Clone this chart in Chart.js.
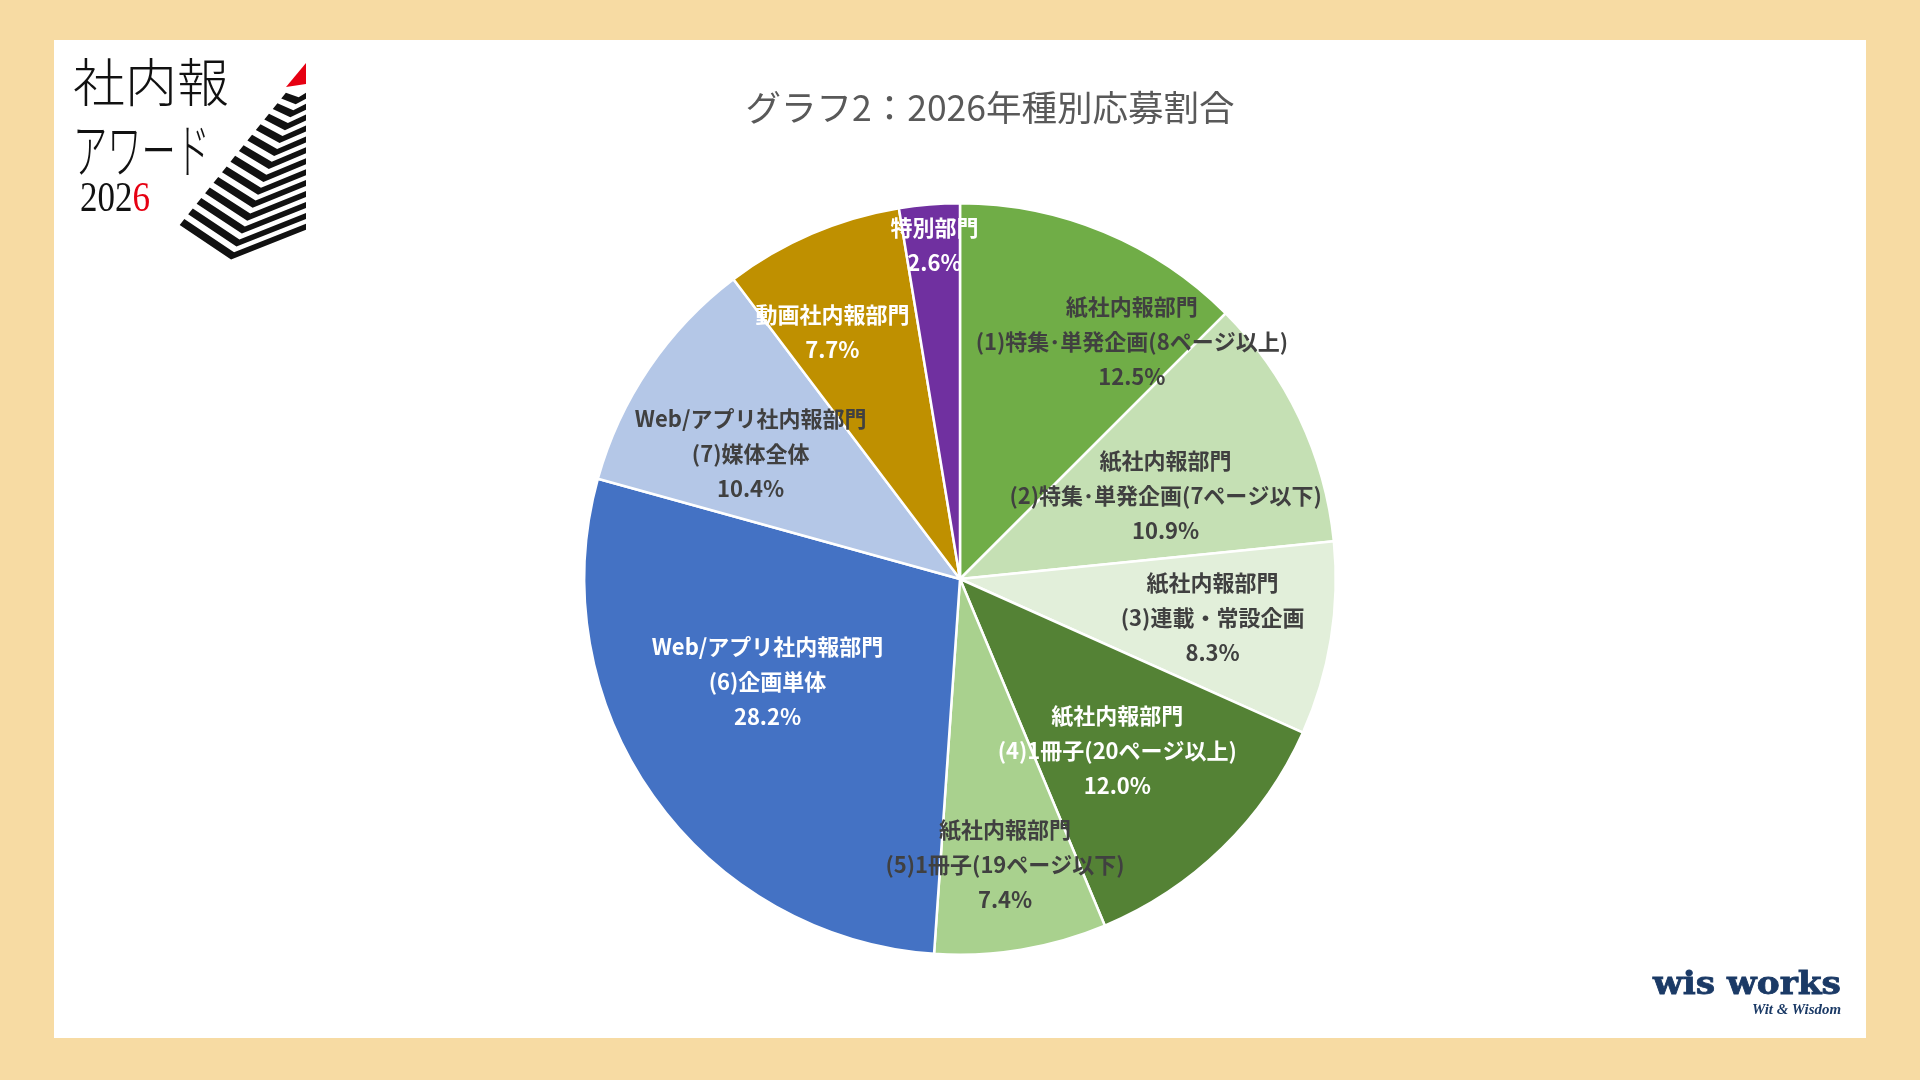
<!DOCTYPE html>
<html lang="ja">
<head>
<meta charset="utf-8">
<script src="https://cdn.jsdelivr.net/npm/chart.js@4.4.1/dist/chart.umd.min.js"></script>
<style>
  html, body { margin: 0; padding: 0; width: 1920px; height: 1080px; overflow: hidden; background: #F7DBA3; }
  #panel { position: absolute; left: 54px; top: 40px; width: 1812px; height: 998px; background: #ffffff; }
  #chartBox { position: absolute; left: 54px; top: 40px; width: 1812px; height: 998px; }
  .logo { position: absolute; white-space: nowrap; line-height: 1; }
  #title { position: absolute; left: 990px; top: 88px; transform: translateX(-50%); white-space: nowrap; line-height: 1;
           font-family: 'Noto Sans CJK JP'; font-size: 35.5px; font-weight: normal; color: #595959; }
</style>
</head>
<body>
<div id="panel"></div>
<div id="chartBox"><canvas id="c"></canvas></div>
<div id="title"></div>

<!-- 社内報アワード 2026 logo -->
<div class="logo" id="lg1" style="left:73px; top:54px; font-family:'Noto Sans CJK JP'; font-weight:300; font-size:52px; color:#111;">社内報</div>
<div class="logo" id="lg2" style="left:73px; top:117px; font-family:'Noto Sans CJK JP'; font-weight:300; font-size:60px; color:#111;">アワード</div>
<div class="logo" id="lg3" style="left:80px; top:176px; font-family:'Liberation Serif'; font-size:42px; color:#111;">202<span style="color:#E60012">6</span></div>
<svg id="pyr" style="position:absolute; left:0; top:0;" width="400" height="300"></svg>

<!-- wis works logo -->
<div class="logo" id="ww1" style="left:1653px; top:967px; font-family:'DejaVu Serif'; font-weight:bold; font-size:32px; color:#1B3A66; -webkit-text-stroke:0.8px #1B3A66;">wis works</div>
<div class="logo" id="ww2" style="left:1752px; top:1003px; font-family:'Liberation Serif'; font-style:italic; font-weight:bold; font-size:14px; color:#1B3A66;">Wit &amp; Wisdom</div>

<script>
// ---- data ----
const sectionNames = ['紙社内報部門', '紙社内報部門', '紙社内報部門', '紙社内報部門', '紙社内報部門',
                      'Web/アプリ社内報部門', 'Web/アプリ社内報部門', '動画社内報部門', '特別部門'];
const subNames = ['(1)特集･単発企画(8ページ以上)', '(2)特集･単発企画(7ページ以下)', '(3)連載・常設企画',
                  '(4)1冊子(20ページ以上)', '(5)1冊子(19ページ以下)', '(6)企画単体', '(7)媒体全体', '', ''];
const shares = [12.5, 10.9, 8.3, 12.0, 7.4, 28.2, 10.4, 7.7, 2.6];
const titleText = 'グラフ2：2026年種別応募割合';

// ---- styles ----
const sliceColors = ['#70AD47', '#C5E0B4', '#E2EFDA', '#548235', '#A9D18E', '#4472C4', '#B4C7E7', '#BF9000', '#7030A0'];
const labelColors = ['#404040', '#404040', '#404040', '#FFFFFF', '#404040', '#FFFFFF', '#404040', '#FFFFFF', '#FFFFFF'];
const labelRadius = [0.78, 0.59, 0.68, 0.62, 0.77, 0.58, 0.65, 0.74, 0.89];
const labelShiftDeg = [13.4, 3.4, -0.5, 1.8, 0.4, 7.3, -3.2, -4.1, 0.3];

document.getElementById('title').textContent = titleText;

const sliceLabels = {
  id: 'sliceLabels',
  afterDatasetsDraw(chart) {
    const ctx = chart.ctx;
    const meta = chart.getDatasetMeta(0);
    ctx.save();
    ctx.font = 'bold 22px "Noto Sans CJK JP"';
    ctx.textAlign = 'center';
    ctx.textBaseline = 'middle';
    const lh = 35;
    meta.data.forEach((arc, i) => {
      const p = arc.getProps(['x', 'y', 'startAngle', 'endAngle', 'outerRadius'], true);
      const mid = (p.startAngle + p.endAngle) / 2 + labelShiftDeg[i] * Math.PI / 180;
      const r = p.outerRadius * labelRadius[i];
      const cx = p.x + Math.cos(mid) * r;
      const cy = p.y + Math.sin(mid) * r;
      const lines = [sectionNames[i], subNames[i], shares[i].toFixed(1) + '%'].filter(s => s);
      ctx.fillStyle = labelColors[i];
      lines.forEach((t, k) => {
        ctx.fillText(t, cx, cy + (k - (lines.length - 1) / 2) * lh);
      });
    });
    ctx.restore();
  }
};

new Chart(document.getElementById('c'), {
  type: 'pie',
  data: {
    labels: sectionNames.map((s, i) => s + ' ' + subNames[i]),
    datasets: [{
      data: shares,
      backgroundColor: sliceColors,
      borderColor: '#FFFFFF',
      borderWidth: 2.5
    }]
  },
  options: {
    responsive: true,
    maintainAspectRatio: false,
    devicePixelRatio: 1,
    animation: false,
    layout: { padding: { left: 0, right: 0, top: 162, bottom: 82 } },
    plugins: {
      legend: { display: false },
      tooltip: { enabled: false },
      title: { display: false }
    }
  },
  plugins: [sliceLabels]
});

// ---- decorative logo pyramid ----
(function () {
  const svg = document.getElementById('pyr');
  const NS = 'http://www.w3.org/2000/svg';
  const lerp = (a, b, t) => [a[0] + (b[0] - a[0]) * t, a[1] + (b[1] - a[1]) * t];
  const L0 = [288, 90], L1 = [178, 227];
  const B0 = [300, 94], B1 = [230, 262];
  const R0 = [306, 90], R1 = [306, 232];
  const N = 13, frac = 0.55;
  for (let i = 0; i < N; i++) {
    const t1 = (i + 0.25) / N, t2 = Math.min(1, t1 + frac / N);
    const pts = [lerp(L0, L1, t1), lerp(B0, B1, t1), lerp(R0, R1, t1),
                 lerp(R0, R1, t2), lerp(B0, B1, t2), lerp(L0, L1, t2)];
    const poly = document.createElementNS(NS, 'polygon');
    poly.setAttribute('points', pts.map(p => p.join(',')).join(' '));
    poly.setAttribute('fill', '#111');
    svg.appendChild(poly);
  }
  const tri = document.createElementNS(NS, 'polygon');
  tri.setAttribute('points', '306,63 286,87 306,84');
  tri.setAttribute('fill', '#E60012');
  svg.appendChild(tri);
})();

// fit logo texts to their target widths
function fitWidth(id, w) {
  const el = document.getElementById(id);
  const cur = el.getBoundingClientRect().width;
  el.style.transformOrigin = 'left top';
  el.style.transform = 'scaleX(' + (w / cur) + ')';
}
fitWidth('lg2', 137);
fitWidth('lg3', 70);
fitWidth('ww1', 188);
fitWidth('ww2', 89);
</script>
</body>
</html>
